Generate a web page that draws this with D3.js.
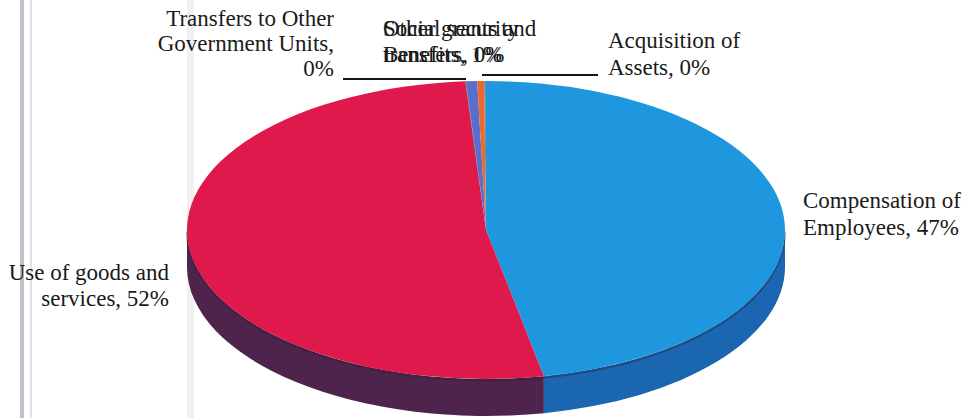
<!DOCTYPE html>
<html>
<head>
<meta charset="utf-8">
<script src="https://cdn.jsdelivr.net/npm/d3@7"></script>
<style>
  html, body { margin: 0; padding: 0; background: #ffffff; }
  svg { display: block; }
</style>
</head>
<body>
<div id="chart"></div>
<script>
// ---- data ----
const categories = [
  "Compensation of Employees",
  "Use of goods and services",
  "Transfers to Other Government Units",
  "Social security Benefits",
  "Other grants and transfers",
  "Acquisition of Assets"
];
const values = [46.9, 52.0, 0.03, 0.6, 0.37, 0.1];
const percentLabels = ["47%", "52%", "0%", "1%", "0%", "0%"];
const labelLines = [
  ["Compensation of", "Employees, 47%"],
  ["Use of goods and", "services, 52%"],
  ["Transfers to Other", "Government Units,", "0%"],
  ["Social security", "Benefits, 1%"],
  ["Other grants and", "transfers, 0%"],
  ["Acquisition of", "Assets, 0%"]
];

// ---- styles / layout ----
const topColors  = ["#1e97df", "#e0194d", "#3f7a3a", "#5a6ccc", "#e86a2e", "#7a8a9a"];
const sideColors = ["#1a66b0", "#4f244c", "#2a4f28", "#3b4588", "#9a4520", "#55606a"];
const labelPos = [
  {x: 803, y: 208, anchor: "start"},
  {x: 169, y: 280, anchor: "end"},
  {x: 334, y: 26,  anchor: "end"},
  {x: 383, y: 36,  anchor: "start"},
  {x: 383, y: 36,  anchor: "start"},
  {x: 608, y: 48,  anchor: "start"}
];
const lineHeight = [27, 26, 25, 26, 26, 27];

const W = 968, H = 418;
const cx = 486, cy = 230, rx = 299, ry = 149, depth = 37;

const svg = d3.select("#chart").append("svg")
  .attr("width", W).attr("height", H);

// scan artifacts (vertical page-binding lines)
svg.append("rect").attr("x", 20).attr("y", 0).attr("width", 4).attr("height", H).attr("fill", "#c4bfc8");
svg.append("rect").attr("x", 30).attr("y", 0).attr("width", 2).attr("height", H).attr("fill", "#e2e0e4");
svg.append("rect").attr("x", 187).attr("y", 0).attr("width", 7).attr("height", H).attr("fill", "#f1f0f3");

const pie = d3.pie().sort(null).startAngle(0).endAngle(2 * Math.PI);
const arcs = pie(values);

const px = a => cx + rx * Math.sin(a);
const py = (a, dy = 0) => cy - ry * Math.cos(a) + dy;

function topPath(d) {
  const a0 = d.startAngle, a1 = d.endAngle;
  const large = (a1 - a0) > Math.PI ? 1 : 0;
  return `M${cx},${cy}L${px(a0)},${py(a0)}A${rx},${ry} 0 ${large} 1 ${px(a1)},${py(a1)}Z`;
}
function sidePath(d) {
  const a0 = Math.max(d.startAngle, Math.PI / 2);
  const a1 = Math.min(d.endAngle, 3 * Math.PI / 2);
  if (a1 <= a0) return null;
  const large = (a1 - a0) > Math.PI ? 1 : 0;
  return `M${px(a0)},${py(a0)}A${rx},${ry} 0 ${large} 1 ${px(a1)},${py(a1)}` +
         `L${px(a1)},${py(a1, depth)}A${rx},${ry} 0 ${large} 0 ${px(a0)},${py(a0, depth)}Z`;
}

const g = svg.append("g");
g.selectAll("path.side").data(arcs.filter(d => sidePath(d)))
  .enter().append("path").attr("class", "side")
  .attr("d", sidePath)
  .attr("fill", d => sideColors[d.index]);

// thin dark seam under the top face edge
g.append("path")
  .attr("d", `M${px(Math.PI/2)},${py(Math.PI/2)}A${rx},${ry} 0 0 1 ${px(3*Math.PI/2)},${py(3*Math.PI/2)}`)
  .attr("fill", "none").attr("stroke", "#2a1f35").attr("stroke-opacity", 0.4).attr("stroke-width", 2)
  .attr("transform", "translate(0,1.5)");

g.selectAll("path.top").data(arcs)
  .enter().append("path").attr("class", "top")
  .attr("d", topPath)
  .attr("fill", d => topColors[d.index]);

// leader lines
const leaders = [
  {x1: 343, y1: 79, x2: 466, y2: 79},
  {x1: 482, y1: 75, x2: 598, y2: 75}
];
svg.selectAll("line.leader").data(leaders).enter().append("line")
  .attr("x1", d => d.x1).attr("y1", d => d.y1).attr("x2", d => d.x2).attr("y2", d => d.y2)
  .attr("stroke", "#151515").attr("stroke-width", 2);

// labels
const lbl = svg.selectAll("text.lbl").data(arcs).enter().append("text")
  .attr("class", "lbl")
  .attr("x", d => labelPos[d.index].x)
  .attr("y", d => labelPos[d.index].y)
  .attr("text-anchor", d => labelPos[d.index].anchor)
  .attr("font-family", "'Liberation Serif', 'Times New Roman', serif")
  .attr("font-size", 23)
  .attr("fill", "#1a1a1a");
lbl.each(function(d) {
  const t = d3.select(this);
  labelLines[d.index].forEach((s, i) => {
    t.append("tspan").attr("x", labelPos[d.index].x)
      .attr("dy", i === 0 ? 0 : lineHeight[d.index]).text(s);
  });
});
</script>
</body>
</html>
